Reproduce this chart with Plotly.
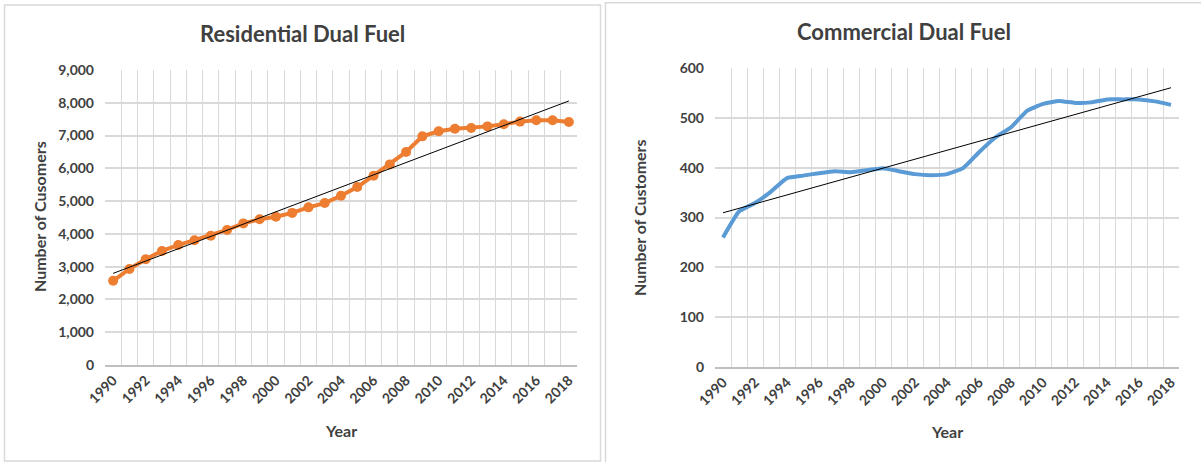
import numpy as np
import plotly.graph_objects as go

# Customer counts by year
years = list(range(1990, 2019))
residential = [2570, 2930, 3225, 3480, 3660, 3805, 3945, 4120, 4320, 4445,
               4525, 4640, 4810, 4940, 5165, 5430, 5775, 6120, 6500, 6975,
               7130, 7210, 7230, 7280, 7345, 7425, 7465, 7465, 7415]
commercial = [260, 312, 329, 352, 379, 384, 389, 393, 391, 395,
              399, 393, 387, 385, 387, 399, 431, 460, 481, 514,
              528, 534, 530, 531, 537, 537, 537, 533, 526]
year_labels = [str(y) for y in range(1990, 2019, 2)]

W, H = 1201, 462
FONT = "Lato"
TXT = "#404040"
GRID = "#d9d9d9"


def px(x):
    return x / W


def py(y):
    return (H - y) / H


def trend(values):
    slope, intercept = np.polyfit(years, values, 1)
    return [slope * y + intercept for y in years]


fig = go.Figure()

fig.add_trace(go.Scatter(
    x=years, y=residential, mode="lines+markers",
    line=dict(color="#ED7D31", width=4),
    marker=dict(color="#ED7D31", size=10),
    xaxis="x", yaxis="y", showlegend=False))
fig.add_trace(go.Scatter(
    x=years, y=trend(residential), mode="lines",
    line=dict(color="black", width=1),
    xaxis="x", yaxis="y", showlegend=False))

fig.add_trace(go.Scatter(
    x=years, y=commercial, mode="lines",
    line=dict(color="#5B9BD5", width=4, shape="spline", smoothing=0.4),
    xaxis="x2", yaxis="y2", showlegend=False))
fig.add_trace(go.Scatter(
    x=years, y=trend(commercial), mode="lines",
    line=dict(color="black", width=1),
    xaxis="x2", yaxis="y2", showlegend=False))

tickfont = dict(family=FONT, size=14, color=TXT, weight="bold")


def xaxis(domain, anchor):
    return dict(
        domain=domain, anchor=anchor, automargin=False,
        range=[1989.5, 2018.5],
        tickmode="array", tickvals=list(range(1990, 2019, 2)), ticktext=year_labels,
        tickangle=-45, tickfont=tickfont, ticks="", showgrid=False,
        minor=dict(showgrid=True, gridcolor=GRID, gridwidth=1, tick0=1989.5, dtick=1),
        showline=True, linecolor="#bfbfbf", linewidth=1.5,
        zeroline=False, fixedrange=True,
    )


def yaxis(domain, anchor, rng, step, fmt):
    return dict(
        domain=domain, anchor=anchor, automargin=False,
        range=rng, dtick=step, tick0=0, tickformat=fmt,
        tickfont=tickfont, ticks="", ticklabelstandoff=10,
        showgrid=True, gridcolor=GRID, gridwidth=1.5,
        zeroline=False, showline=False, fixedrange=True,
    )


fig.update_layout(
    width=W, height=H,
    margin=dict(l=0, r=0, t=0, b=0, pad=0),
    paper_bgcolor="white", plot_bgcolor="white",
    font=dict(family=FONT),
    xaxis=xaxis([px(105), px(577)], "y"),
    yaxis=yaxis([py(365), py(70)], "x", [0, 9000], 1000, ",d"),
    xaxis2=xaxis([px(715), px(1179)], "y2"),
    yaxis2=yaxis([py(367), py(68)], "x2", [0, 600], 100, "d"),
)

# Chart frames
fig.add_shape(type="rect", xref="paper", yref="paper",
              x0=px(4.5), x1=px(600.5), y0=py(461), y1=py(5),
              line=dict(color=GRID, width=1.5), fillcolor="rgba(0,0,0,0)")
fig.add_shape(type="rect", xref="paper", yref="paper",
              x0=px(605.5), x1=px(1210), y0=py(470), y1=py(2.7),
              line=dict(color=GRID, width=1.5), fillcolor="rgba(0,0,0,0)")

title_font = dict(family=FONT, size=22, color=TXT, weight="bold")
label_font = dict(family=FONT, size=16, color=TXT, weight="bold")

annotations = [
    dict(text="Residential Dual Fuel", x=px(302), y=py(34), font=title_font),
    dict(text="Commercial Dual Fuel", x=px(904), y=py(31), font=title_font),
    dict(text="Year", x=px(341), y=py(430), font=label_font),
    dict(text="Year", x=px(947), y=py(431), font=label_font),
    dict(text="Number of Cusomers", x=px(39), y=py(217), font=label_font, textangle=-90),
    dict(text="Number of Customers", x=px(639), y=py(217), font=label_font, textangle=-90),
]
for a in annotations:
    a.update(xref="paper", yref="paper", showarrow=False, xanchor="center", yanchor="middle")
fig.update_layout(annotations=annotations)

fig.write_html("out.html", config=dict(displayModeBar=False))
